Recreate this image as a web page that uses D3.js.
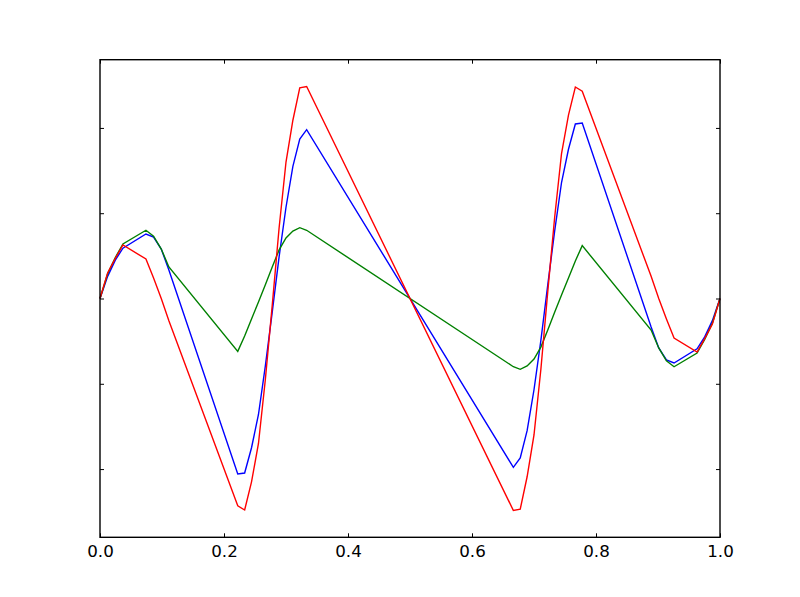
<!DOCTYPE html>
<html lang="en">
<head>
    <meta charset="UTF-8">
    <title>Three curves</title>
    <style>
        body { margin: 0; background: #fff; }
        svg { display: block; }
        .tick text { font-family: 'DejaVu Sans', sans-serif; font-size: 16.7px; fill: #000; }
        .tick line { stroke: #000; stroke-width: 1; }
    </style>
</head>
<body>
    <svg width="800" height="597"></svg>

    <script src="https://cdnjs.cloudflare.com/ajax/libs/d3/7.8.5/d3.min.js"></script>
    <script>
        // sample positions shared by all three curves
        var xs = [0, 0.0123, 0.0247, 0.037, 0.0741, 0.0864, 0.0988, 0.1111,
                  0.2222, 0.2333, 0.2444, 0.2556, 0.2667, 0.2778, 0.2889, 0.3, 0.3111, 0.3222, 0.3333,
                  0.6667, 0.6778, 0.6889, 0.7, 0.7111, 0.7222, 0.7333, 0.7444, 0.7556, 0.7667, 0.7778,
                  0.8889, 0.9012, 0.9136, 0.9259, 0.963, 0.9753, 0.9877, 1];

        var blueVals = [0, 0.26, 0.45, 0.59, 0.756, 0.72, 0.58, 0.334,
                        -2.057, -2.046, -1.75, -1.36, -0.79, -0.16, 0.49, 1.07, 1.55, 1.87, 1.98,
                        -1.98, -1.87, -1.55, -1.07, -0.49, 0.16, 0.79, 1.36, 1.75, 2.046, 2.057,
                        -0.334, -0.58, -0.72, -0.756, -0.59, -0.45, -0.26, 0];

        var greenVals = [0, 0.29, 0.48, 0.64, 0.80, 0.73, 0.58, 0.37,
                         -0.62, -0.44, -0.24, -0.04, 0.16, 0.37, 0.57, 0.71, 0.79, 0.83, 0.80,
                         -0.80, -0.83, -0.79, -0.71, -0.57, -0.37, -0.16, 0.04, 0.24, 0.44, 0.62,
                         -0.37, -0.58, -0.73, -0.80, -0.64, -0.48, -0.29, 0];

        var redVals = [0, 0.30, 0.47, 0.627, 0.463, 0.24, 0.0, -0.26,
                       -2.43, -2.48, -2.15, -1.70, -0.95, -0.08, 0.83, 1.60, 2.09, 2.47, 2.485,
                       -2.485, -2.47, -2.09, -1.60, -0.83, 0.08, 0.95, 1.70, 2.15, 2.48, 2.43,
                       0.26, 0.0, -0.24, -0.463, -0.627, -0.47, -0.30, 0];

        var xTicks = [0, 0.2, 0.4, 0.6, 0.8, 1.0];
        var yTicks = [-2, -1, 0, 1, 2];

        var series = [
            { name: 'blue', color: '#0000ff', values: blueVals },
            { name: 'green', color: '#008000', values: greenVals },
            { name: 'red', color: '#ff0000', values: redVals }
        ];

        var svg = d3.select('svg');
        var H = 597;
        // matplotlib default subplot box (window.top is read-only, so use a box object)
        var box = { x0: 100, x1: 720, y0: 0.1 * H, y1: 0.9 * H };

        var x = d3.scaleLinear().domain([0, 1]).range([box.x0, box.x1]);
        var y = d3.scaleLinear().domain([-2.8, 2.8]).range([box.y1, box.y0]);

        var line = d3.line()
            .x(function (d) { return x(d[0]); })
            .y(function (d) { return y(d[1]); });

        // curves, drawn in cycle order b, g, r
        svg.append('g')
            .attr('class', 'lines')
            .selectAll('path')
            .data(series)
            .enter()
            .append('path')
            .attr('fill', 'none')
            .attr('stroke', function (d) { return d.color; })
            .attr('stroke-width', 1.4)
            .attr('stroke-linejoin', 'miter')
            .attr('d', function (d) {
                return line(xs.map(function (v, i) { return [v, d.values[i]]; }));
            });

        // ticks point inward on all four sides
        svg.append('g')
            .attr('transform', 'translate(0,' + box.y1 + ')')
            .call(d3.axisBottom(x).tickValues(xTicks).tickSize(-4).tickPadding(7.5)
                .tickFormat(d3.format('.1f')))
            .select('.domain').remove();

        svg.append('g')
            .attr('transform', 'translate(0,' + box.y0 + ')')
            .call(d3.axisTop(x).tickValues(xTicks).tickSize(-4).tickFormat(''))
            .select('.domain').remove();

        svg.append('g')
            .attr('transform', 'translate(' + box.x0 + ',0)')
            .call(d3.axisLeft(y).tickValues(yTicks).tickSize(-4).tickFormat(''))
            .select('.domain').remove();

        svg.append('g')
            .attr('transform', 'translate(' + box.x1 + ',0)')
            .call(d3.axisRight(y).tickValues(yTicks).tickSize(-4).tickFormat(''))
            .select('.domain').remove();

        // frame
        svg.append('rect')
            .attr('x', box.x0)
            .attr('y', box.y0)
            .attr('width', box.x1 - box.x0)
            .attr('height', box.y1 - box.y0)
            .attr('fill', 'none')
            .attr('stroke', '#000')
            .attr('stroke-width', 1.4);
    </script>
</body>
</html>
